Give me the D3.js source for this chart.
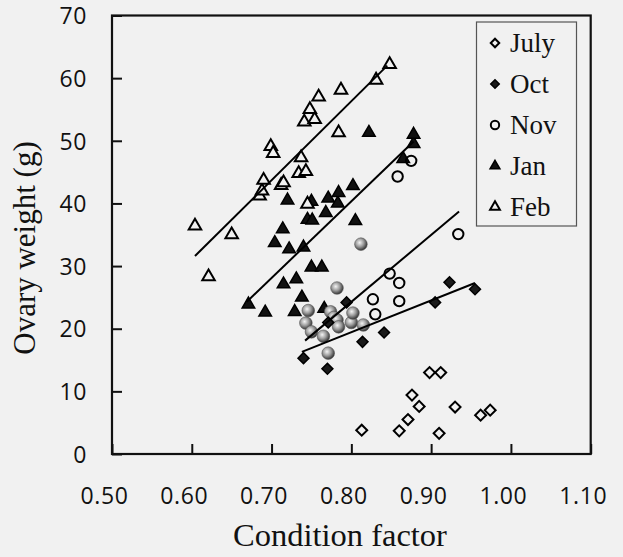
<!DOCTYPE html>
<html>
<head>
<meta charset="utf-8">
<script src="https://cdn.jsdelivr.net/npm/d3@7"></script>
<style>
  body { margin: 0; background: #f1f1f1; }
  .serif { font-family: 'Liberation Serif', 'Times New Roman', Tinos, 'DejaVu Serif', 'Noto Serif', serif; }
</style>
</head>
<body>
<div class="canvas"></div>
<script>
// data: [condition factor, ovary weight]
const july = [[0.813,3.8],[0.860,3.7],[0.871,5.5],[0.876,9.4],[0.885,7.6],[0.898,13.0],
    [0.912,13.0],[0.910,3.3],[0.930,7.5],[0.962,6.2],[0.974,7.0]];
const oct = [[0.740,15.3],[0.770,13.6],[0.771,21.0],[0.794,24.2],[0.814,17.9],[0.841,19.4],
    [0.905,24.2],[0.923,27.4],[0.955,26.3]];
const nov = [[0.827,24.7],[0.830,22.3],[0.848,28.8],[0.860,27.3],[0.860,24.4],[0.858,44.3],
    [0.875,46.8],[0.934,35.1]];
const novShaded = [[0.743,20.9],[0.746,22.9],[0.750,19.5],[0.765,18.8],[0.771,16.1],[0.774,22.7],
    [0.778,21.8],[0.782,21.4],[0.784,20.3],[0.782,26.5],[0.800,21.0],[0.802,22.5],[0.815,20.6],[0.812,33.5]];
const jan = [[0.671,23.9],[0.692,22.6],[0.704,33.7],[0.714,35.9],[0.715,27.1],[0.720,40.5],
    [0.722,32.7],[0.729,22.7],[0.731,27.9],[0.738,25.0],[0.740,33.0],[0.745,37.4],[0.751,37.3],
    [0.750,40.3],[0.750,29.8],[0.763,29.8],[0.766,23.2],[0.768,38.5],[0.771,40.8],[0.783,40.0],
    [0.784,41.7],[0.802,42.8],[0.805,37.2],[0.822,51.3],[0.865,47.1],[0.878,49.5],[0.878,51.0]];
const feb = [[0.604,36.4],[0.621,28.3],[0.650,35.0],[0.685,41.2],[0.688,42.0],[0.690,43.7],
    [0.699,49.1],[0.702,48.0],[0.712,42.9],[0.715,43.3],[0.734,44.8],[0.737,47.3],[0.743,45.1],
    [0.745,39.9],[0.741,53.0],[0.748,55.0],[0.754,53.4],[0.759,57.0],[0.784,51.3],[0.787,58.1],
    [0.831,59.7],[0.848,62.2]];

// fitted lines as drawn: [x0, y0, x1, y1]
const trendLines = [
    [0.604,31.6,0.845,62.0],
    [0.669,24.3,0.878,49.9],
    [0.742,18.1,0.935,38.7],
    [0.738,16.3,0.955,27.3]
];

const xTicks = [0.5,0.6,0.7,0.8,0.9,1.0,1.1];
const yTicks = [0,10,20,30,40,50,60,70];
const legendNames = ['July','Oct','Nov','Jan','Feb'];

// svg container
const svg = d3.select('.canvas')
    .append('svg')
        .attr('width', 623)
        .attr('height', 557)
        .style('display', 'block');

const margin = {top: 15.5, right: 32.3, bottom: 103, left: 112};
const graphWidth = 623 - margin.left - margin.right;
const graphHeight = 557 - margin.top - margin.bottom;

const defs = svg.append('defs');
const grad = defs.append('radialGradient')
    .attr('id', 'sphere')
    .attr('cx', '40%').attr('cy', '38%').attr('r', '60%');
grad.append('stop').attr('offset', '0%').attr('stop-color', '#f4f4f4');
grad.append('stop').attr('offset', '55%').attr('stop-color', '#9a9a9a');
grad.append('stop').attr('offset', '100%').attr('stop-color', '#3c3c3c');

const graph = svg.append('g')
    .attr('transform', `translate(${margin.left}, ${margin.top})`);

const x = d3.scaleLinear().domain([0.5, 1.1]).range([0, graphWidth]);
const y = d3.scaleLinear().domain([0, 70]).range([graphHeight, 0]);

// axes
const xAxis = d3.axisBottom(x)
    .tickValues(xTicks)
    .tickFormat(d3.format('.2f'))
    .tickSizeInner(-10)
    .tickSizeOuter(0)
    .tickPadding(34);
const yAxis = d3.axisLeft(y)
    .tickValues(yTicks)
    .tickSizeInner(-10)
    .tickSizeOuter(0)
    .tickPadding(25);

const xAxisGroup = graph.append('g')
    .attr('transform', `translate(0, ${graphHeight})`)
    .call(xAxis);
const yAxisGroup = graph.append('g').call(yAxis);

[xAxisGroup, yAxisGroup].forEach(g => {
    g.select('.domain').remove();
    g.selectAll('line').attr('stroke', '#111').attr('stroke-width', 2);
    g.selectAll('text')
        .attr('fill', '#111')
        .style('font-family', '"Open Sans", sans-serif')
        .style('font-size', '23px')
        .style('letter-spacing', '0.6px');
});
yAxisGroup.selectAll('text').attr('dy', '0.36em');
// the labels under the x axis sit a little left of their ticks
xAxisGroup.selectAll('text').attr('dx', -8);

// frame
graph.append('rect')
    .attr('width', graphWidth)
    .attr('height', graphHeight)
    .attr('fill', 'none')
    .attr('stroke', '#111')
    .attr('stroke-width', 2.2);

// marker shapes
const tri = d3.symbol().type(d3.symbolTriangle).size(68);
const dia = d3.symbol().type(d3.symbolSquare).size(60);
const circ = d3.symbol().type(d3.symbolCircle).size(85);
const sph = d3.symbol().type(d3.symbolCircle).size(125);

function drawPoints(data, gen, fill, stroke, width, rot) {
    graph.append('g').selectAll('path')
        .data(data)
        .enter()
        .append('path')
            .attr('d', gen)
            .attr('transform', d => `translate(${x(d[0])}, ${y(d[1])}) rotate(${rot || 0})`)
            .attr('fill', fill)
            .attr('stroke', stroke)
            .attr('stroke-width', width);
}

drawPoints(july, dia, '#f1f1f1', '#000', 2, 45);
drawPoints(jan, tri, '#111', '#000', 1.5);
drawPoints(feb, tri, '#f1f1f1', '#000', 2);
drawPoints(novShaded, sph, 'url(#sphere)', '#555', 0.6);
drawPoints(oct, dia, '#1a1a1a', '#000', 1.5, 45);
drawPoints(nov, circ, 'none', '#000', 2);

// trend lines
graph.append('g').selectAll('line')
    .data(trendLines)
    .enter()
    .append('line')
        .attr('x1', d => x(d[0]))
        .attr('y1', d => y(d[1]))
        .attr('x2', d => x(d[2]))
        .attr('y2', d => y(d[3]))
        .attr('stroke', '#000')
        .attr('stroke-width', 2);

// axis titles
svg.append('text')
    .attr('class', 'serif')
    .attr('x', 340)
    .attr('y', 546)
    .attr('text-anchor', 'middle')
    .style('font-size', '32.5px')
    .attr('fill', '#111')
    .text('Condition factor');

svg.append('text')
    .attr('class', 'serif')
    .attr('transform', 'translate(35, 248) rotate(-90)')
    .attr('text-anchor', 'middle')
    .style('font-size', '31px')
    .attr('fill', '#111')
    .text('Ovary weight (g)');

// legend
const legend = svg.append('g');
legend.append('rect')
    .attr('x', 476.5)
    .attr('y', 22)
    .attr('width', 100)
    .attr('height', 204)
    .attr('fill', '#f1f1f1')
    .attr('stroke', '#555')
    .attr('stroke-width', 1.2);

const legendShapes = [
    {gen: d3.symbol().type(d3.symbolSquare).size(36), fill: '#f1f1f1', rot: 45, w: 2},
    {gen: d3.symbol().type(d3.symbolSquare).size(36), fill: '#1a1a1a', rot: 45, w: 1.5},
    {gen: d3.symbol().type(d3.symbolCircle).size(55), fill: 'none', rot: 0, w: 2},
    {gen: d3.symbol().type(d3.symbolTriangle).size(42), fill: '#111', rot: 0, w: 1.5},
    {gen: d3.symbol().type(d3.symbolTriangle).size(42), fill: '#f1f1f1', rot: 0, w: 2}
];

const items = legend.selectAll('g.item')
    .data(legendNames)
    .enter()
    .append('g')
        .attr('class', 'item')
        .attr('transform', (d, i) => `translate(495, ${43 + i * 41})`);

items.append('path')
    .attr('d', (d, i) => legendShapes[i].gen())
    .attr('transform', (d, i) => `rotate(${legendShapes[i].rot})`)
    .attr('fill', (d, i) => legendShapes[i].fill)
    .attr('stroke', '#000')
    .attr('stroke-width', (d, i) => legendShapes[i].w);

items.append('text')
    .attr('class', 'serif')
    .attr('x', 15)
    .attr('y', 9)
    .style('font-size', '27px')
    .attr('fill', '#111')
    .text(d => d);
</script>
</body>
</html>
